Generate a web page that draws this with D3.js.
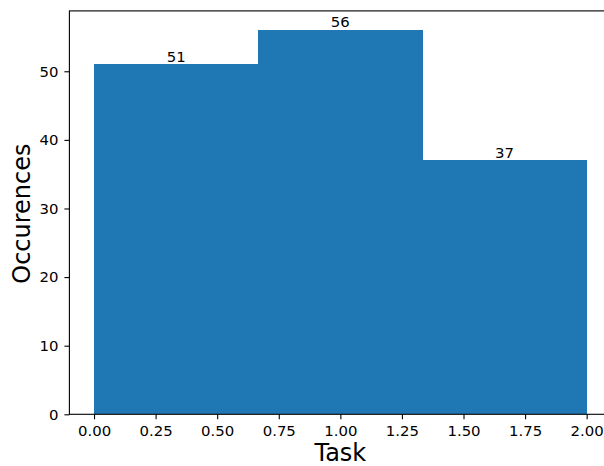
<!DOCTYPE html>
<html>
<head>
<meta charset="utf-8">
<script src="https://cdn.jsdelivr.net/npm/d3@7"></script>
<style>
  html, body { margin: 0; padding: 0; background: #fff; }
  svg { display: block; font-family: "DejaVu Sans", sans-serif; }
</style>
</head>
<body>
<svg id="chart" width="604" height="466"></svg>
<script>
// Histogram of tasks: three equal-width bins between 0 and 2
const binEdges = [0, 2 / 3, 4 / 3, 2];
const counts = [51, 56, 37];
const xTicks = [0, 0.25, 0.5, 0.75, 1.0, 1.25, 1.5, 1.75, 2.0];
const yTicks = [0, 10, 20, 30, 40, 50];

const svg = d3.select("#chart");
const plotLeft = 69.4, plotRight = 611.3, plotTop = 10.9, plotBottom = 414.3;
const tickFont = "14.9px", titleFont = "24px";

const x = d3.scaleLinear().domain([-0.1, 2.1]).range([plotLeft, plotRight]);
const y = d3.scaleLinear().domain([0, 56 * 1.05]).range([plotBottom, plotTop]);

const bins = counts.map((c, i) => ({ x0: binEdges[i], x1: binEdges[i + 1], count: c }));

// bars (adjacent bins share an edge, so render crisp to avoid seams)
svg.append("g").attr("shape-rendering", "crispEdges")
  .selectAll("rect").data(bins).join("rect")
  .attr("x", d => x(d.x0))
  .attr("width", d => x(d.x1) - x(d.x0) + 0.5)
  .attr("y", d => y(d.count))
  .attr("height", d => y(0) - y(d.count))
  .attr("fill", "#1f77b4");

// value labels above each bar
svg.append("g").selectAll("text").data(bins).join("text")
  .attr("x", d => x((d.x0 + d.x1) / 2))
  .attr("y", d => y(d.count) - 2.8)
  .attr("text-anchor", "middle")
  .attr("font-size", tickFont)
  .attr("fill", "#000")
  .text(d => d.count);

// axes
const xAxis = d3.axisBottom(x).tickValues(xTicks).tickFormat(d3.format(".2f"))
  .tickSize(5).tickPadding(6.3);
const yAxis = d3.axisLeft(y).tickValues(yTicks).tickFormat(d3.format("d"))
  .tickSize(5).tickPadding(6);

const gx = svg.append("g").attr("transform", `translate(0,${plotBottom})`).call(xAxis);
const gy = svg.append("g").attr("transform", `translate(${plotLeft},0)`).call(yAxis);
[gx, gy].forEach(g => {
  g.select(".domain").remove();
  g.selectAll(".tick line").attr("stroke", "#000").attr("stroke-width", 1.1);
  g.selectAll(".tick text").attr("font-size", tickFont).attr("fill", "#000")
    .attr("font-family", "DejaVu Sans, sans-serif");
});

// frame
svg.append("rect")
  .attr("x", plotLeft).attr("y", plotTop)
  .attr("width", plotRight - plotLeft).attr("height", plotBottom - plotTop)
  .attr("fill", "none").attr("stroke", "#000").attr("stroke-width", 1.1);

// axis titles
svg.append("text")
  .attr("x", (plotLeft + plotRight) / 2).attr("y", 461)
  .attr("text-anchor", "middle").attr("font-size", titleFont).attr("fill", "#000")
  .text("Task");

svg.append("text")
  .attr("transform", `translate(30,${(plotTop + plotBottom) / 2 + 1}) rotate(-90)`)
  .attr("text-anchor", "middle").attr("font-size", titleFont).attr("fill", "#000")
  .text("Occurences");
</script>
</body>
</html>
